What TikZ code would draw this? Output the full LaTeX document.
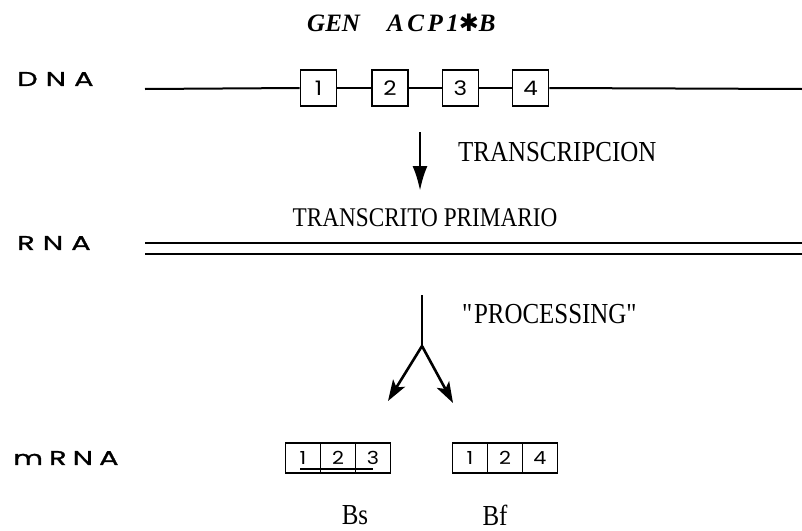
\documentclass[tikz,border=0pt]{standalone}
\usepackage{fontspec}
\setmainfont{Liberation Serif}
\newfontfamily\labfont[FakeBold=1.2,FakeStretch=1.45]{Poppins}
\newfontfamily\numfont[FakeStretch=1.15]{Poppins}
\newfontfamily\symfont{DejaVu Sans}
\newfontfamily\condserif[FakeStretch=0.86]{Liberation Serif}
\newfontfamily\titlefont[LetterSpace=14]{Liberation Serif}
\usetikzlibrary{arrows.meta}
\begin{document}
\begin{tikzpicture}[x=1pt,y=-1pt,
  rowlabel/.style={font=\labfont\fontsize{20}{20}\selectfont, anchor=west, inner sep=0pt},
  exon/.style={draw, line width=1.6pt, minimum width=36pt, minimum height=36pt, inner sep=0pt, font=\numfont\fontsize{20}{20}\selectfont},
  cell/.style={draw, line width=1.5pt, minimum width=35pt, minimum height=30pt, inner sep=0pt, font=\numfont\fontsize{18}{18}\selectfont},
  strand/.style={line width=2pt},
  serif/.style={font=\condserif\fontsize{29}{29}\selectfont, inner sep=0pt},
  title/.style={font=\bfseries\itshape\fontsize{25}{25}\selectfont, inner sep=0pt, anchor=west},
  bigarrow/.style={line width=2.8pt, -{Latex[length=25pt,width=15pt]}},
  forkarrow/.style={line width=2.6pt, -{Stealth[length=21pt,width=14pt,inset=5pt]}}]
\useasboundingbox (0,0) rectangle (802,530);
% title
\node[title] (gen) at (307,23) {GEN};
\node[title, font=\titlefont\bfseries\itshape\fontsize{25}{25}\selectfont] (acp) at (387,23) {ACP1{\symfont\fontsize{24}{24}\selectfont ✱}B};
% DNA row
\node[rowlabel] (dnal) at (17,79) {D\hspace{8pt}N\hspace{8pt}A};
\coordinate (dnas) at (145,89);
\coordinate (dnae) at (802,89);
\node[exon] (e1) at (318.5,88) {1};
\node[exon] (e2) at (390,88) {2};
\node[exon] (e3) at (460.5,88) {3};
\node[exon] (e4) at (530.5,88) {4};
\draw[strand] (dnas) -- (e1.west);
\draw[strand] (e1.east) -- (e2.west);
\draw[strand] (e2.east) -- (e3.west);
\draw[strand] (e3.east) -- (e4.west);
\draw[strand] (e4.east) -- (dnae);
% transcription
\coordinate (t1) at (420,132);
\coordinate (t2) at (420,191);
\draw[bigarrow] (t1) -- (t2);
\node[serif, anchor=west] (tlab) at (458,152) {TRANSCRIPCION};
% RNA row
\node[rowlabel] (rnal) at (17,243) {R\hspace{8pt}N\hspace{8pt}A};
\node[serif, font=\condserif\fontsize{27}{27}\selectfont, anchor=base] (prim) at (425,226) {TRANSCRITO PRIMARIO};
\coordinate (r1s) at (145,243);
\coordinate (r1e) at (802,243);
\coordinate (r2s) at (145,254);
\coordinate (r2e) at (802,254);
\draw[strand, line width=1.8pt] (r1s) -- (r1e);
\draw[strand, line width=1.8pt] (r2s) -- (r2e);
% processing
\coordinate (p0) at (422,295);
\coordinate (apex) at (422,346);
\coordinate (pl) at (388,401);
\coordinate (pr) at (453,403);
\draw[line width=2.6pt] (p0) -- (apex);
\draw[forkarrow] (apex) -- (pl);
\draw[forkarrow] (apex) -- (pr);
\node[serif, anchor=west] (plab) at (462,314) {\textquotedbl PROCESSING\textquotedbl};
% mRNA row
\node[rowlabel] (mrnal) at (13,458) {m\hspace{6pt}R\hspace{6pt}N\hspace{6pt}A};
\node[cell] (s1) at (303,458) {1};
\node[cell] (s2) at (338,458) {2};
\node[cell] (s3) at (373,458) {3};
\coordinate (u1) at (300,469);
\coordinate (u2) at (373,469);
\draw[line width=1.5pt] (u1) -- (u2);
\node[cell] (f1) at (470,458) {1};
\node[cell] (f2) at (505,458) {2};
\node[cell] (f4) at (540,458) {4};
\node[serif] (bs) at (355,515) {Bs};
\node[serif] (bf) at (495,515) {Bf};
\end{tikzpicture}
\end{document}
